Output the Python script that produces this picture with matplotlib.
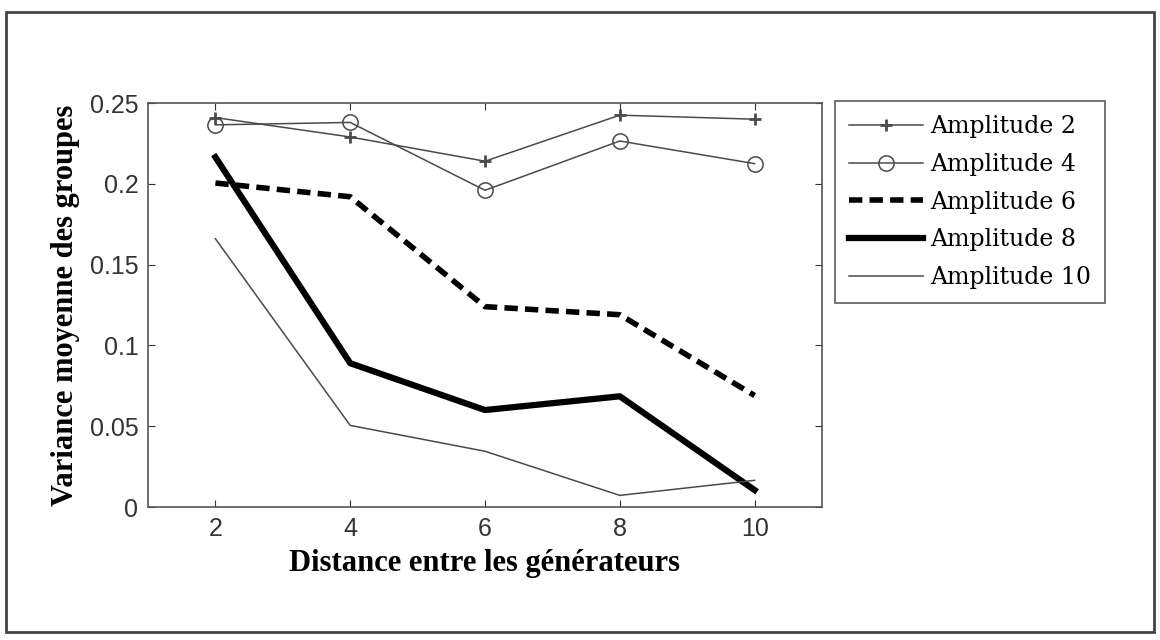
import matplotlib.pyplot as plt
from matplotlib.patches import Rectangle

# Distance entre les générateurs
distances = [2, 4, 6, 8, 10]

# Variance moyenne des groupes pour chaque amplitude
amp2 = [0.2410, 0.2290, 0.2140, 0.2425, 0.2400]
amp4 = [0.2365, 0.2380, 0.1960, 0.2265, 0.2125]
amp6 = [0.2005, 0.1920, 0.1240, 0.1190, 0.0690]
amp8 = [0.2165, 0.0890, 0.0600, 0.0685, 0.0105]
amp10 = [0.1660, 0.0505, 0.0345, 0.0072, 0.0165]

labels = ['Amplitude 2', 'Amplitude 4', 'Amplitude 6', 'Amplitude 8', 'Amplitude 10']
yticks = [0, 0.05, 0.1, 0.15, 0.2, 0.25]
yticklabels = ['0', '0.05', '0.1', '0.15', '0.2', '0.25']

fig = plt.figure(figsize=(11.6, 6.4), dpi=100)
ax = fig.add_axes([0.1276, 0.2078, 0.5810, 0.6312])

gris = '#4a4a4a'
ax.plot(distances, amp2, color=gris, lw=1.1, marker='+', markersize=9, mew=2.0, label=labels[0])
ax.plot(distances, amp4, color=gris, lw=1.1, marker='o', markersize=11, mfc='none', mew=1.1, label=labels[1])
ax.plot(distances, amp6, color='black', lw=4, linestyle=(0, (2.4, 1.3)), label=labels[2])
ax.plot(distances, amp8, color='black', lw=4.5, label=labels[3])
ax.plot(distances, amp10, color=gris, lw=1.1, label=labels[4])

ax.set_xlim(1, 11)
ax.set_ylim(0, 0.25)
ax.set_xticks(distances)
ax.set_yticks(yticks)
ax.set_yticklabels(yticklabels)
ax.tick_params(direction='in', length=5, width=0.8, top=True, right=True,
               labelsize=18, colors='#333333', pad=7)
for lab in ax.get_xticklabels() + ax.get_yticklabels():
    lab.set_family('Liberation Sans')
for sp in ax.spines.values():
    sp.set_color('#555555')
    sp.set_linewidth(1.2)

ax.set_xlabel('Distance entre les générateurs', family='Liberation Serif',
              fontweight='bold', fontsize=22, labelpad=6)
ax.set_ylabel('Variance moyenne des groupes', family='Liberation Serif',
              fontweight='bold', fontsize=22, labelpad=7)

leg = fig.legend(loc='upper left', bbox_to_anchor=(0.720, 0.842), frameon=True,
                 fancybox=False, edgecolor='#333333', handlelength=3.1,
                 handletextpad=0.3, borderpad=0.6, labelspacing=0.62,
                 borderaxespad=0, prop={'family': 'DejaVu Serif', 'size': 17})
leg.get_frame().set_linewidth(1.2)

# cadre autour de la figure
fig.patches.append(Rectangle((0.005, 0.012), 0.990, 0.970, transform=fig.transFigure,
                             fill=False, edgecolor='#444444', lw=2))

fig.savefig('out.png', dpi=100)
